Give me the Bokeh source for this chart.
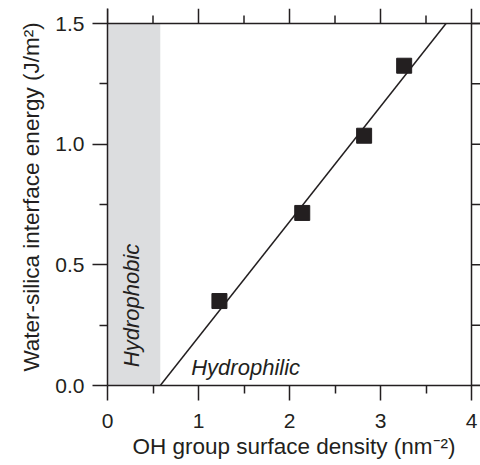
import math
from bokeh.plotting import figure
from bokeh.models import Range1d, FixedTicker, NumeralTickFormatter
from bokeh.core.properties import value
from bokeh.embed import file_html
from bokeh.resources import INLINE

# ---- data ----
oh_density = [1.23, 2.14, 2.82, 3.26]
interface_energy = [0.35, 0.715, 1.035, 1.325]
fit_x = [0.58, 3.72]
fit_y = [0.0, 1.5]
hydrophobic_left = [0.0]
hydrophobic_right = [0.58]
x_ticks = [0, 1, 2, 3, 4]
x_minor = [0.5, 1.5, 2.5, 3.5]
y_ticks = [0.0, 0.5, 1.0, 1.5]
y_minor = [0.25, 0.75, 1.25]

FONT = "Liberation Sans"
INK = "#231f20"
FS = "21px"
FS_LABEL = "22.5px"
FS_IN = "22px"

# pixel geometry of the plotting box
BOX_W, BOX_H = 364, 362          # pixels for x 0..4, y 0..1.5
TOP_TICK, TOP_MINOR, RIGHT_TICK = 15, 8, 9
x0, x1 = x_ticks[0], x_ticks[-1]
y0, y1 = y_ticks[0], y_ticks[-1]
px_x = BOX_W / (x1 - x0)
px_y = BOX_H / (y1 - y0)
x_end = x1 + RIGHT_TICK / px_x
y_end = y1 + TOP_TICK / px_y

p = figure(frame_width=BOX_W + RIGHT_TICK, frame_height=BOX_H + TOP_TICK,
           output_backend="svg", toolbar_location=None,
           x_range=Range1d(x0, x_end), y_range=Range1d(y0, y_end))
p.min_border_left = 107
p.min_border_top = 8
p.min_border_right = 0
p.min_border_bottom = 5
p.outline_line_color = None
p.grid.visible = False
p.background_fill_color = "white"
p.border_fill_color = "white"

# shaded hydrophobic region
p.quad(left=hydrophobic_left, right=hydrophobic_right, bottom=[y0], top=[y1],
       fill_color="#dcdddf", line_color=None)

# mirrored top / right frame lines with outward ticks
p.segment(x0=[x0], y0=[y1], x1=[x_end], y1=[y1], line_color=INK, line_width=1.5)
p.segment(x0=[x1], y0=[y0], x1=[x1], y1=[y1], line_color=INK, line_width=1.5)
p.segment(x0=x_ticks, y0=[y1] * len(x_ticks), x1=x_ticks, y1=[y_end] * len(x_ticks),
          line_color=INK, line_width=1.5)
p.segment(x0=x_minor, y0=[y1] * len(x_minor), x1=x_minor,
          y1=[y1 + TOP_MINOR / px_y] * len(x_minor), line_color=INK, line_width=1.5)
ry = y_ticks + y_minor
p.segment(x0=[x1] * len(ry), y0=ry, x1=[x_end] * len(ry), y1=ry,
          line_color=INK, line_width=1.5)

# fit line
p.line(fit_x, fit_y, line_color=INK, line_width=1.5)

# data points
p.scatter(oh_density, interface_energy, marker="square", size=15,
          fill_color=INK, line_color=INK)

# labels inside
p.text(x=[0.92], y=[0.076], text=["Hydrophilic"], text_font=value(FONT),
       text_font_size=FS_IN, text_font_style="italic", text_color=INK,
       text_align="left", text_baseline="alphabetic")
p.text(x=[0.26], y=[0.076], text=["Hydrophobic"], text_font=value(FONT),
       text_font_size=FS_IN, text_font_style="italic", text_color=INK,
       text_align="left", text_baseline="alphabetic", angle=math.pi / 2)

def style_axis(ax, ticks, minor, tick_out, minor_out):
    ax.ticker = FixedTicker(ticks=ticks, minor_ticks=minor)
    ax.axis_line_color = INK
    ax.axis_line_width = 1.5
    ax.major_tick_line_color = INK
    ax.major_tick_line_width = 1.5
    ax.minor_tick_line_color = INK
    ax.minor_tick_line_width = 1.5
    ax.major_tick_in = 0
    ax.minor_tick_in = 0
    ax.major_tick_out = tick_out
    ax.minor_tick_out = minor_out
    ax.major_label_text_font = FONT
    ax.major_label_text_font_size = FS
    ax.major_label_text_color = INK
    ax.axis_label_text_font = FONT
    ax.axis_label_text_font_size = FS_LABEL
    ax.axis_label_text_font_style = "normal"
    ax.axis_label_text_color = INK

xa = p.xaxis[0]
style_axis(xa, x_ticks, x_minor, 15, 8)
xa.formatter = NumeralTickFormatter(format="0")
xa.axis_label = "OH group surface density (nm\u207b\u00b2)"
xa.major_label_standoff = 13
xa.axis_label_standoff = 3

ya = p.yaxis[0]
style_axis(ya, y_ticks, y_minor, 15, 8)
ya.formatter = NumeralTickFormatter(format="0.0")
ya.axis_label = "Water-silica interface energy (J/m\u00b2)"
ya.major_label_standoff = 8
ya.axis_label_standoff = 8

open("out.html", "w").write(file_html(p, INLINE))
